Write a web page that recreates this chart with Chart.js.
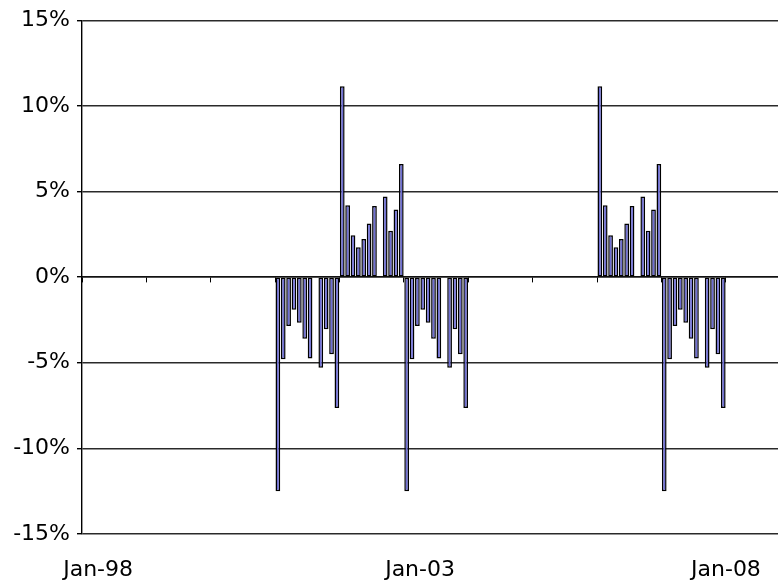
<!DOCTYPE html>
<html><head><meta charset="utf-8">
<script src="https://cdn.jsdelivr.net/npm/chart.js@4.4.1/dist/chart.umd.min.js"></script>
<style>html,body{margin:0;padding:0;background:#fff}</style>
</head><body>
<canvas id="c" width="778" height="583"></canvas>
<script>
// Months counted from the first yearly tick at the left edge of the plot.
// Each block holds 12 monthly returns (%), null = no bar.
const blockStartMonths = [36, 48, 60, 96, 108];
const block1 = [-12.5, -4.8, -2.85, -1.9, -2.66, -3.6, -4.75, null, -5.3, -3.05, -4.5, -7.65];
const block2 = [11.15, 4.2, 2.45, 1.74, 2.22, 3.13, 4.15, null, 4.7, 2.7, 3.94, 6.6];
const block3 = [-12.5, -4.8, -2.85, -1.9, -2.66, -3.6, -4.75, null, -5.3, -3.05, -4.5, -7.65];
const block4 = [11.15, 4.2, 2.45, 1.74, 2.22, 3.13, 4.15, null, 4.7, 2.7, 3.94, 6.6];
const block5 = [-12.5, -4.8, -2.85, -1.9, -2.66, -3.6, -4.75, null, -5.3, -3.05, -4.5, -7.65];
const blocks = [block1, block2, block3, block4, block5];

const dateTickMonths = [3, 63, 120];
const dateTickLabels = ['Jan-98', 'Jan-03', 'Jan-08'];
const yTickValues = [-15, -10, -5, 0, 5, 10, 15];
const axisMaxMonth = 129.7;

const points = [];
blocks.forEach((vals, b) => {
  vals.forEach((v, i) => {
    if (v !== null) points.push({ x: blockStartMonths[b] + i + 0.5, y: v });
  });
});

const FONT = { family: 'DejaVu Sans', size: 22 };

new Chart(document.getElementById('c'), {
  type: 'bar',
  data: {
    datasets: [{
      data: points,
      backgroundColor: '#6f6fd4',
      borderColor: '#000',
      borderWidth: 1.5,
      borderSkipped: false,
      barPercentage: 0.88,
      categoryPercentage: 1,
      xAxisID: 'x',
      yAxisID: 'y'
    }]
  },
  options: {
    responsive: false,
    animation: false,
    devicePixelRatio: 1,
    layout: { padding: { top: 16, left: 0, right: 0, bottom: 0 } },
    plugins: { legend: { display: false }, tooltip: { enabled: false } },
    scales: {
      x: {
        type: 'linear',
        position: { y: 0 },
        offset: false,
        min: 0,
        max: axisMaxMonth,
        ticks: { display: false, stepSize: 12, includeBounds: false },
        grid: { drawOnChartArea: false, drawTicks: true, tickLength: 5, color: '#000', offset: false },
        border: { color: '#111', width: 1.4 },
        afterFit: s => { s.paddingLeft = 0; s.paddingRight = 0; }
      },
      xb: {
        type: 'linear',
        position: 'bottom',
        offset: false,
        min: 0,
        max: axisMaxMonth,
        afterBuildTicks: s => { s.ticks = dateTickMonths.map(v => ({ value: v })); },
        ticks: {
          autoSkip: false, maxRotation: 0, minRotation: 0,
          color: '#000', font: FONT, padding: 23,
          callback: (v, i) => dateTickLabels[i]
        },
        grid: { display: false, drawTicks: false, offset: false },
        border: { display: false },
        afterFit: s => { s.height = 49; s.paddingLeft = 0; s.paddingRight = 0; }
      },
      y: {
        min: -15,
        max: 15,
        afterBuildTicks: s => { s.ticks = yTickValues.map(v => ({ value: v })); },
        ticks: { color: '#000', font: FONT, padding: 7, callback: v => v + '%' },
        grid: { color: '#2a2a2a', lineWidth: 1.4, tickLength: 5, tickColor: '#000' },
        border: { color: '#000', width: 1.4 },
        afterFit: s => { s.width = 82; }
      }
    }
  }
});
</script>
</body></html>
